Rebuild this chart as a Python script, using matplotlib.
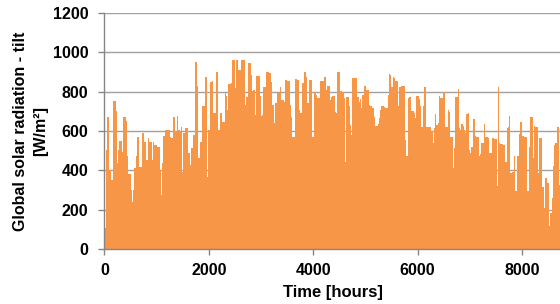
import numpy as np
import matplotlib
matplotlib.use('Agg')
import matplotlib.pyplot as plt

plt.rcParams['font.family'] = ['Liberation Sans', 'DejaVu Sans']

# daily peak of global tilted irradiance [W/m2] (day 0..364)
daily_peak = [
    105, 503, 673, 673, 400, 351, 351, 754, 754, 700,
    436, 503, 549, 549, 495, 673, 673, 650, 470, 380,
    380, 300, 241, 300, 410, 470, 568, 568, 419, 419,
    588, 588, 546, 453, 453, 563, 546, 546, 453, 542,
    529, 529, 520, 520, 402, 275, 436, 575, 605, 605,
    605, 605, 568, 563, 563, 670, 597, 597, 676, 605,
    600, 619, 393, 588, 617, 617, 617, 486, 427, 512,
    512, 580, 949, 949, 829, 461, 541, 541, 724, 724,
    873, 873, 368, 605, 846, 846, 851, 693, 693, 897,
    897, 605, 693, 693, 647, 647, 792, 778, 707, 839,
    839, 842, 958, 958, 817, 958, 958, 910, 910, 958,
    958, 958, 732, 771, 771, 944, 944, 885, 805, 809,
    681, 880, 880, 880, 775, 676, 681, 825, 825, 897,
    897, 893, 893, 846, 732, 639, 744, 744, 792, 792,
    825, 758, 758, 749, 859, 859, 851, 851, 732, 673,
    568, 568, 863, 863, 859, 707, 690, 690, 842, 897,
    897, 876, 741, 859, 859, 859, 571, 795, 795, 783,
    766, 766, 851, 851, 851, 876, 876, 809, 829, 829,
    758, 771, 778, 778, 698, 690, 897, 897, 805, 805,
    800, 766, 440, 771, 771, 724, 631, 580, 871, 871,
    868, 868, 771, 749, 761, 715, 783, 829, 829, 809,
    809, 732, 724, 724, 715, 673, 625, 625, 636, 664,
    707, 724, 724, 720, 715, 715, 783, 890, 885, 825,
    876, 868, 851, 851, 724, 822, 822, 829, 829, 829,
    554, 470, 766, 771, 771, 703, 703, 693, 664, 778,
    778, 761, 724, 622, 727, 822, 822, 622, 619, 619,
    619, 597, 537, 614, 686, 631, 639, 778, 766, 766,
    798, 798, 622, 622, 707, 698, 571, 571, 410, 512,
    771, 771, 812, 614, 605, 636, 625, 605, 588, 686,
    690, 503, 486, 517, 659, 659, 575, 571, 571, 470,
    483, 537, 537, 636, 571, 571, 563, 486, 486, 563,
    563, 558, 558, 320, 822, 537, 534, 534, 529, 529,
    444, 614, 622, 676, 385, 393, 393, 470, 292, 470,
    470, 585, 647, 575, 575, 571, 571, 292, 292, 520,
    670, 670, 461, 625, 622, 622, 385, 563, 563, 317,
    317, 207, 359, 334, 334, 117, 181, 258, 422, 529,
    537, 622, 622, 325, 300,
]
hours_per_day = 24
y_ticks = [0, 200, 400, 600, 800, 1000, 1200]
x_ticks = [0, 2000, 4000, 6000, 8000]

edges = np.arange(len(daily_peak) + 1) * hours_per_day

fig = plt.figure(figsize=(5.6, 3.04), dpi=100)
ax = fig.add_axes([0.1864, 0.181, 0.8166, 0.777])

ax.stairs(daily_peak, edges, fill=True, color='#F79646', linewidth=0)

ax.set_xlim(0, 8760)
ax.set_ylim(0, 1200)
ax.set_yticks(y_ticks)
ax.set_xticks(x_ticks)
ax.grid(axis='y', color='#A0A0A0', linewidth=1.0)
ax.set_axisbelow(True)

for s in ['top', 'right']:
    ax.spines[s].set_visible(False)
for s in ['left', 'bottom']:
    ax.spines[s].set_color('#868686')
    ax.spines[s].set_linewidth(1.0)
ax.tick_params(direction='out', length=4, width=1, color='#868686',
               labelsize=11.5)
ax.tick_params(axis='y', pad=7.5)
ax.tick_params(axis='x', pad=6)
for lab in ax.get_xticklabels() + ax.get_yticklabels():
    lab.set_fontweight('bold')

ax.set_ylabel('Global solar radiation - tilt\n[W/m\u00b2]', fontsize=11.5,
              fontweight='bold', labelpad=3, linespacing=1.45)
ax.set_xlabel('Time [hours]', fontsize=12, fontweight='bold', labelpad=5)

plt.savefig('out.png', dpi=100)
